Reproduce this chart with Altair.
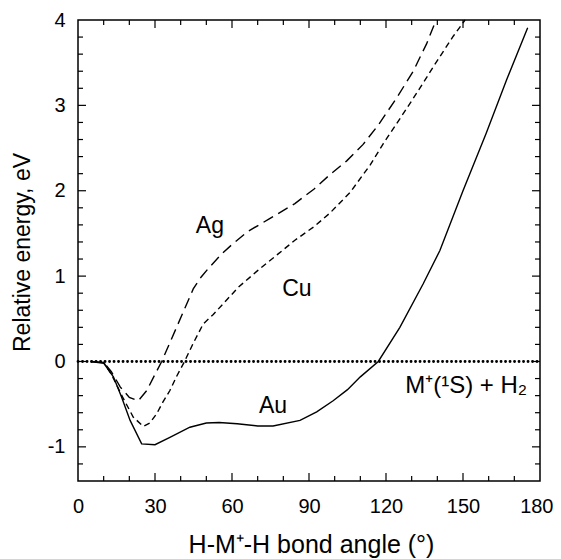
import altair as alt
import pandas as pd

# ---- data ----
au_x = [5, 10, 13.8, 17, 20.3, 24.8, 30, 35.8, 43.6, 50, 55, 62, 70, 76, 86.5, 93, 99.4, 105, 110, 117, 125.4, 134.5, 141, 150, 159, 167, 175.2]
au_y = [0, -0.02, -0.18, -0.42, -0.69, -0.965, -0.975, -0.89, -0.77, -0.72, -0.715, -0.73, -0.755, -0.755, -0.69, -0.59, -0.46, -0.33, -0.18, 0, 0.40, 0.91, 1.30, 2.0, 2.67, 3.30, 3.91]

ag_x = [5, 10, 13, 16.5, 20, 23.5, 26.8, 29.5, 32.6, 35.5, 38.4, 41, 44.9, 48, 50.8, 56, 60, 66, 74.5, 84.5, 92, 98.2, 104.7, 111, 117, 124, 130.6, 135.8, 139.5]
ag_y = [0, -0.01, -0.12, -0.30, -0.42, -0.46, -0.34, -0.18, 0, 0.2, 0.40, 0.58, 0.85, 0.99, 1.09, 1.26, 1.37, 1.52, 1.67, 1.85, 2.02, 2.19, 2.35, 2.54, 2.77, 3.08, 3.40, 3.72, 4.0]

cu_x = [5, 10, 13, 17.6, 21.5, 25.4, 28, 30.7, 33, 35.8, 38.5, 41.5, 45, 48.8, 52.7, 57.9, 62.5, 70.2, 78, 84.5, 92, 98.2, 106, 113.8, 118.9, 124, 129.3, 134, 138.4, 142.5, 146.2, 150.8]
cu_y = [0, -0.01, -0.15, -0.43, -0.65, -0.76, -0.72, -0.61, -0.48, -0.34, -0.17, 0, 0.22, 0.44, 0.55, 0.72, 0.87, 1.07, 1.26, 1.42, 1.58, 1.74, 1.98, 2.30, 2.55, 2.78, 3.02, 3.24, 3.45, 3.64, 3.81, 4.0]

zero_x = [0, 180]
zero_y = [0, 0]

x_tick_labels = [0, 30, 60, 90, 120, 150, 180]
y_tick_labels = [-1, 0, 1, 2, 3, 4]
x_major = [30, 60, 90, 120, 150]
x_minor = [10, 20, 40, 50, 70, 80, 100, 110, 130, 140, 160, 170]
y_major = [-1, 0, 1, 2, 3]
y_minor = [-1.2, -0.8, -0.6, -0.4, -0.2, 0.2, 0.4, 0.6, 0.8, 1.2, 1.4, 1.6, 1.8,
           2.2, 2.4, 2.6, 2.8, 3.2, 3.4, 3.6, 3.8]

label_text = ["Ag", "Cu", "Au"]
label_x = [51.4, 85.3, 76.0]
label_y = [1.51, 0.77, -0.60]
asym_text = ["M⁺(¹S) + H₂"]
asym_x = [175.0]
asym_y = [-0.375]

# ---- chart ----
W, H = 462, 461
FONT = "Liberation Sans"
xs = alt.Scale(domain=[0, 180], nice=False, zero=False)
ys = alt.Scale(domain=[-1.4, 4], nice=False, zero=False)

x_axis = alt.Axis(values=x_tick_labels, ticks=False, domain=False, grid=False,
                  labelFontSize=20, labelFont=FONT, labelColor="black",
                  labelPadding=15, labelFlush=False, labelOverlap=False,
                  labelExpr="'' + datum.value",
                  labelAlign={"condition": {"test": "datum.value === 180", "value": "right"}, "value": "center"},
                  labelOffset={"condition": {"test": "datum.value === 180", "value": 13}, "value": 0},
                  title="H-M⁺-H bond angle (°)", titleFont=FONT, titleFontSize=25,
                  titleFontWeight="normal", titleColor="black",
                  titleX=233, titleY=71, titleBaseline="alphabetic", titleAlign="center")
y_axis = alt.Axis(values=y_tick_labels, ticks=False, domain=False, grid=False,
                  labelFontSize=20, labelFont=FONT, labelColor="black",
                  labelPadding=13, labelFlush=False, labelOverlap=False,
                  labelExpr="'' + datum.value",
                  title="Relative energy, eV", titleFont=FONT, titleFontSize=23,
                  titleFontWeight="normal", titleColor="black", titleAngle=270,
                  titleX=-49, titleY=232, titleBaseline="alphabetic", titleAlign="center")


def X(field):
    return alt.X(field, scale=xs, axis=x_axis)


def Y(field):
    return alt.Y(field, scale=ys, axis=y_axis)


def curve(xv, yv):
    return pd.DataFrame({"angle": xv, "energy": yv})


au = alt.Chart(curve(au_x, au_y)).mark_line(color="black", strokeWidth=1.4).encode(
    x=X("angle:Q"), y=Y("energy:Q"))
ag = alt.Chart(curve(ag_x, ag_y)).mark_line(color="black", strokeWidth=1.4, strokeDash=[11, 6]).encode(
    x=X("angle:Q"), y=Y("energy:Q"))
cu = alt.Chart(curve(cu_x, cu_y)).mark_line(color="black", strokeWidth=1.4, strokeDash=[6, 4]).encode(
    x=X("angle:Q"), y=Y("energy:Q"))
zero = alt.Chart(curve(zero_x, zero_y)).mark_line(color="black", strokeWidth=2.8, strokeDash=[0.1, 4.4],
                                                  strokeCap="round").encode(
    x=X("angle:Q"), y=Y("energy:Q"))


def yticks(vals, length):
    d = pd.DataFrame({"energy": vals})
    left = alt.Chart(d).mark_rule(color="black", strokeWidth=1.2).encode(
        y=Y("energy:Q"), x=alt.value(0), x2=alt.value(length))
    right = alt.Chart(d).mark_rule(color="black", strokeWidth=1.2).encode(
        y=Y("energy:Q"), x=alt.value(W), x2=alt.value(W - length))
    return [left, right]


def xticks(vals, length):
    d = pd.DataFrame({"angle": vals})
    bottom = alt.Chart(d).mark_rule(color="black", strokeWidth=1.2).encode(
        x=X("angle:Q"), y=alt.value(H), y2=alt.value(H - length))
    top = alt.Chart(d).mark_rule(color="black", strokeWidth=1.2).encode(
        x=X("angle:Q"), y=alt.value(0), y2=alt.value(length))
    return [bottom, top]


labels = alt.Chart(pd.DataFrame({"t": label_text, "angle": label_x, "energy": label_y})).mark_text(
    font=FONT, fontSize=23, color="black", align="center", baseline="alphabetic").encode(
    x=X("angle:Q"), y=Y("energy:Q"), text="t:N")
asym = alt.Chart(pd.DataFrame({"t": asym_text, "angle": asym_x, "energy": asym_y})).mark_text(
    font=FONT, fontSize=24, color="black", align="right", baseline="alphabetic").encode(
    x=X("angle:Q"), y=Y("energy:Q"), text="t:N")

layers = [au, zero, ag, cu, labels, asym] + yticks(y_major, 8) + yticks(y_minor, 5) + \
    xticks(x_major, 8) + xticks(x_minor, 5)

chart = alt.layer(*layers).properties(
    width=W, height=H,
    autosize=alt.AutoSizeParams(type="none"),
    padding={"left": 70, "top": 12, "right": 13, "bottom": 78},
    background="white",
).configure_view(stroke="black", strokeWidth=1.5)

chart.save("out.html", embed_options={"renderer": "svg", "actions": False})
